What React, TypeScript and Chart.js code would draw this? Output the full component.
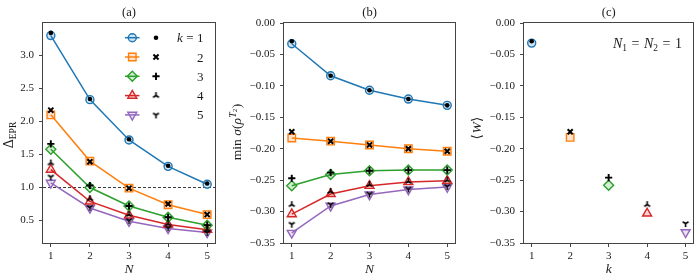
import React, { useEffect, useRef } from 'react';
import { Chart, registerables } from 'chart.js';

Chart.register(...registerables);

// ---------------- data ----------------
const nValues = [1, 2, 3, 4, 5];
const kValues = [1, 2, 3, 4, 5];

// panel (a): Delta_EPR vs N (coloured lines) and reference markers (black)
const deltaK1 = [3.30, 2.33, 1.72, 1.32, 1.05];
const deltaK2 = [2.10, 1.40, 0.99, 0.74, 0.59];
const deltaK3 = [1.58, 1.00, 0.72, 0.55, 0.43];
const deltaK4 = [1.27, 0.79, 0.58, 0.44, 0.36];
const deltaK5 = [1.07, 0.69, 0.49, 0.38, 0.32];
const deltaRefK1 = [3.34, 2.34, 1.73, 1.33, 1.06];
const deltaRefK2 = [2.17, 1.39, 0.99, 0.75, 0.59];
const deltaRefK3 = [1.66, 1.03, 0.72, 0.55, 0.43];
const deltaRefK4 = [1.37, 0.83, 0.59, 0.45, 0.36];
const deltaRefK5 = [1.16, 0.70, 0.50, 0.39, 0.32];

// panel (b): min sigma(rho^T2) vs N
const sigmaK1 = [-0.033, -0.084, -0.107, -0.121, -0.131];
const sigmaK2 = [-0.183, -0.188, -0.194, -0.200, -0.204];
const sigmaK3 = [-0.259, -0.241, -0.235, -0.234, -0.234];
const sigmaK4 = [-0.304, -0.272, -0.259, -0.253, -0.251];
const sigmaK5 = [-0.334, -0.291, -0.273, -0.265, -0.261];
const sigmaRefK1 = [-0.029, -0.084, -0.107, -0.121, -0.131];
const sigmaRefK2 = [-0.173, -0.188, -0.194, -0.200, -0.204];
const sigmaRefK3 = [-0.247, -0.238, -0.235, -0.234, -0.234];
const sigmaRefK4 = [-0.289, -0.268, -0.257, -0.252, -0.250];
const sigmaRefK5 = [-0.320, -0.289, -0.272, -0.264, -0.260];

// panel (c): <W> vs k (N1 = N2 = 1)
const witnessValues = [-0.032, -0.182, -0.258, -0.303, -0.333];
const witnessRefValues = [-0.029, -0.173, -0.246, -0.289, -0.319];

// tick labels
const xTicks = [1, 2, 3, 4, 5];
const deltaTicks = [0.5, 1.0, 1.5, 2.0, 2.5, 3.0];
const sigmaTicks = [0, -0.05, -0.1, -0.15, -0.2, -0.25, -0.3, -0.35];
const legendLabels = ['1', '2', '3', '4', '5'];
const panelTitles = ['(a)', '(b)', '(c)'];

// ---------------- styles ----------------
const W = 700;
const H = 280;
const COLORS = ['#1f77b4', '#ff7f0e', '#2ca02c', '#d62728', '#9467bd'];
const FILLS = ['rgba(31,119,180,0.2)', 'rgba(255,127,14,0.2)', 'rgba(44,160,44,0.2)', 'rgba(214,39,40,0.2)', 'rgba(148,103,189,0.2)'];
const SERIF = "'Liberation Serif', 'DejaVu Serif', serif";
const TEXT = '#1a1a1a';
const FRAME = '#444444';

function triCanvas(up: boolean) {
  const c = document.createElement('canvas');
  c.width = 9;
  c.height = 9;
  const g = c.getContext('2d')!;
  g.strokeStyle = '#000';
  g.lineWidth = 1.6;
  const cx = 4.5, cy = 4.5, r = 3.4;
  const angles = up ? [-90, 30, 150] : [90, -30, -150];
  g.beginPath();
  for (const a of angles) {
    const rad = (a * Math.PI) / 180;
    g.moveTo(cx, cy);
    g.lineTo(cx + r * Math.cos(rad), cy + r * Math.sin(rad));
  }
  g.stroke();
  return c;
}

type Marker = { style: any; radius: number; rotation: number; width: number };

function coloredMarkers(): Marker[] {
  return [
    { style: 'circle', radius: 4, rotation: 0, width: 1.4 },
    { style: 'rect', radius: 5.3, rotation: 0, width: 1.4 },
    { style: 'rectRot', radius: 5, rotation: 0, width: 1.4 },
    { style: 'triangle', radius: 5.2, rotation: 0, width: 1.4 },
    { style: 'triangle', radius: 5.2, rotation: 180, width: 1.4 },
  ];
}

function blackMarkers(): Marker[] {
  return [
    { style: 'circle', radius: 2.3, rotation: 0, width: 0 },
    { style: 'crossRot', radius: 3.6, rotation: 0, width: 2 },
    { style: 'cross', radius: 3.6, rotation: 0, width: 1.9 },
    { style: triCanvas(true), radius: 4, rotation: 0, width: 1 },
    { style: triCanvas(false), radius: 4, rotation: 0, width: 1 },
  ];
}

function pts(xs: number[], ys: number[]) {
  return xs.map((x, i) => ({ x, y: ys[i] }));
}

function makeDatasets(xs: number[], series: number[][], refs: number[][], showLine: boolean) {
  const cm = coloredMarkers();
  const bm = blackMarkers();
  const ds: any[] = [];
  series.forEach((s, i) => {
    ds.push({
      data: pts(xs, s),
      showLine,
      borderColor: COLORS[i],
      backgroundColor: COLORS[i],
      borderWidth: 1.5,
      tension: 0,
      pointStyle: cm[i].style,
      pointRadius: cm[i].radius,
      pointRotation: cm[i].rotation,
      pointBorderColor: COLORS[i],
      pointBackgroundColor: FILLS[i],
      pointBorderWidth: cm[i].width,
      order: 2,
    });
  });
  refs.forEach((s, i) => {
    ds.push({
      data: pts(xs, s),
      showLine: false,
      borderColor: '#000',
      backgroundColor: '#000',
      pointStyle: bm[i].style,
      pointRadius: bm[i].radius,
      pointRotation: 0,
      pointBorderColor: '#000',
      pointBackgroundColor: '#000',
      pointBorderWidth: bm[i].width,
      order: 1,
    });
  });
  return ds;
}

// ---------- text helpers ----------
type Seg = { t: string; size: number; italic?: boolean; dy?: number; gap?: number };

function richWidth(ctx: CanvasRenderingContext2D, segs: Seg[]) {
  let w = 0;
  for (const s of segs) {
    ctx.font = `${s.italic ? 'italic ' : ''}${s.size}px ${SERIF}`;
    w += ctx.measureText(s.t).width + (s.gap || 0);
  }
  return w;
}

function drawRich(ctx: CanvasRenderingContext2D, segs: Seg[], x: number, y: number, align: 'left' | 'center' | 'right') {
  const total = richWidth(ctx, segs);
  let cx = align === 'left' ? x : align === 'center' ? x - total / 2 : x - total;
  ctx.textAlign = 'left';
  ctx.textBaseline = 'alphabetic';
  for (const s of segs) {
    ctx.font = `${s.italic ? 'italic ' : ''}${s.size}px ${SERIF}`;
    ctx.fillText(s.t, cx, y + (s.dy || 0));
    cx += ctx.measureText(s.t).width + (s.gap || 0);
  }
}

function drawMarker(ctx: CanvasRenderingContext2D, m: Marker, x: number, y: number, stroke: string, fill: string) {
  ctx.save();
  ctx.translate(x, y);
  ctx.strokeStyle = stroke;
  ctx.fillStyle = fill;
  ctx.lineWidth = m.width;
  const r = m.radius;
  if (typeof m.style !== 'string') {
    ctx.drawImage(m.style, -m.style.width / 2, -m.style.height / 2);
    ctx.restore();
    return;
  }
  ctx.beginPath();
  if (m.style === 'circle') {
    ctx.arc(0, 0, r, 0, Math.PI * 2);
  } else if (m.style === 'rect') {
    const s = Math.SQRT1_2 * r;
    ctx.rect(-s, -s, 2 * s, 2 * s);
  } else if (m.style === 'rectRot') {
    ctx.moveTo(-r, 0); ctx.lineTo(0, -r); ctx.lineTo(r, 0); ctx.lineTo(0, r); ctx.closePath();
  } else if (m.style === 'triangle') {
    ctx.rotate((m.rotation * Math.PI) / 180);
    for (let i = 0; i < 3; i++) {
      const a = -Math.PI / 2 + (i * 2 * Math.PI) / 3;
      const px = r * Math.cos(a), py = r * Math.sin(a);
      if (i === 0) ctx.moveTo(px, py); else ctx.lineTo(px, py);
    }
    ctx.closePath();
  } else if (m.style === 'cross') {
    ctx.moveTo(-r, 0); ctx.lineTo(r, 0); ctx.moveTo(0, -r); ctx.lineTo(0, r);
  } else if (m.style === 'crossRot') {
    const s = r * Math.SQRT1_2;
    ctx.moveTo(-s, -s); ctx.lineTo(s, s); ctx.moveTo(-s, s); ctx.lineTo(s, -s);
  }
  if (m.style !== 'cross' && m.style !== 'crossRot') ctx.fill();
  if (m.width > 0) ctx.stroke();
  ctx.restore();
}

// ---------- chart factory ----------
type PanelSpec = {
  box: { l: number; t: number; r: number; b: number };
  xMin: number; xMax: number;
  yMin: number; yMax: number;
  yTicks: number[];
  yFmt: (v: number) => string;
  datasets: any[];
  title: string;
  xTitle: string;
  yLabel: { x: number; y: number; segs: Seg[] };
  extraBefore?: (chart: any) => void;
  extraAfter?: (chart: any) => void;
};

const Y_W = 36;
const X_H = 22;

function makeChart(canvas: HTMLCanvasElement, p: PanelSpec) {
  const tickFont = { family: SERIF, size: 11 };
  const panelPlugin = {
    id: 'panelDecor',
    beforeDatasetsDraw(chart: any) {
      if (p.extraBefore) p.extraBefore(chart);
    },
    afterDatasetsDraw(chart: any) {
      const { ctx, chartArea } = chart;
      ctx.save();
      ctx.strokeStyle = FRAME;
      ctx.lineWidth = 1;
      const l = Math.round(chartArea.left) - 0.5;
      const t = Math.round(chartArea.top) - 0.5;
      const r = Math.round(chartArea.right) + 0.5;
      const b = Math.round(chartArea.bottom) + 0.5;
      ctx.strokeRect(l, t, r - l, b - t);
      ctx.restore();
    },
    afterDraw(chart: any) {
      const { ctx, chartArea } = chart;
      const cx = (chartArea.left + chartArea.right) / 2;
      ctx.save();
      ctx.fillStyle = TEXT;
      drawRich(ctx, [{ t: p.title, size: 12.5 }], cx, 16, 'center');
      drawRich(ctx, [{ t: p.xTitle, size: 13.5, italic: true }], cx, 273, 'center');
      ctx.translate(p.yLabel.x, p.yLabel.y);
      ctx.rotate(-Math.PI / 2);
      drawRich(ctx, p.yLabel.segs, 0, 0, 'center');
      ctx.restore();
      if (p.extraAfter) {
        ctx.save();
        p.extraAfter(chart);
        ctx.restore();
      }
    },
  };

  return new Chart(canvas, {
    type: 'line',
    data: { datasets: p.datasets },
    options: {
      responsive: false,
      animation: false,
      devicePixelRatio: 1,
      events: [],
      layout: {
        padding: { left: p.box.l - Y_W, top: p.box.t, right: W - p.box.r, bottom: H - p.box.b - X_H },
      },
      plugins: { legend: { display: false }, tooltip: { enabled: false }, title: { display: false } },
      scales: {
        x: {
          type: 'linear',
          min: p.xMin,
          max: p.xMax,
          afterBuildTicks: (s: any) => { s.ticks = xTicks.map((v) => ({ value: v })); },
          afterFit: (s: any) => { s.height = X_H; },
          ticks: { font: tickFont, color: TEXT, padding: 3, autoSkip: false, maxRotation: 0, callback: (v: any) => String(v) },
          grid: { drawOnChartArea: false, drawTicks: true, tickLength: 4, color: FRAME, lineWidth: 1 },
          border: { display: false },
        },
        y: {
          type: 'linear',
          min: p.yMin,
          max: p.yMax,
          afterBuildTicks: (s: any) => { s.ticks = p.yTicks.map((v) => ({ value: v })); },
          afterFit: (s: any) => { s.width = Y_W; },
          ticks: { font: tickFont, color: TEXT, padding: 5, autoSkip: false, callback: (v: any) => p.yFmt(Number(v)) },
          grid: { drawOnChartArea: false, drawTicks: true, tickLength: 4, color: FRAME, lineWidth: 1 },
          border: { display: false },
        },
      },
    },
    plugins: [panelPlugin],
  } as any);
}

const fmtSigma = (v: number) => (Math.abs(v) < 1e-9 ? '0.00' : (v < 0 ? '\u2212' : '') + Math.abs(v).toFixed(2));

export default function App() {
  const refA = useRef<HTMLCanvasElement>(null);
  const refB = useRef<HTMLCanvasElement>(null);
  const refC = useRef<HTMLCanvasElement>(null);

  useEffect(() => {
    const legendMarkersC = coloredMarkers();
    const legendMarkersB = blackMarkers();

    const chartA = makeChart(refA.current!, {
      box: { l: 43, t: 23, r: 215, b: 243 },
      xMin: 0.8, xMax: 5.2,
      yMin: 0.16, yMax: 3.49,
      yTicks: deltaTicks,
      yFmt: (v) => v.toFixed(1),
      datasets: makeDatasets(nValues, [deltaK1, deltaK2, deltaK3, deltaK4, deltaK5], [deltaRefK1, deltaRefK2, deltaRefK3, deltaRefK4, deltaRefK5], true),
      title: panelTitles[0],
      xTitle: 'N',
      yLabel: { x: 12.5, y: 135, segs: [{ t: '\u0394', size: 14 }, { t: 'EPR', size: 9.5, dy: 3 }] },
      extraBefore: (chart) => {
        const { ctx, chartArea } = chart;
        const y = chart.scales.y.getPixelForValue(1.0);
        ctx.save();
        ctx.strokeStyle = '#222';
        ctx.lineWidth = 0.9;
        ctx.setLineDash([3, 2]);
        ctx.beginPath();
        ctx.moveTo(chartArea.left, y);
        ctx.lineTo(chartArea.right, y);
        ctx.stroke();
        ctx.restore();
      },
      extraAfter: (chart) => {
        const { ctx } = chart;
        for (let i = 0; i < 5; i++) {
          const y = 37.7 + i * 19.3;
          ctx.save();
          ctx.strokeStyle = COLORS[i];
          ctx.lineWidth = 1.5;
          ctx.beginPath();
          ctx.moveTo(125, y);
          ctx.lineTo(139.5, y);
          ctx.stroke();
          ctx.restore();
          drawMarker(ctx, legendMarkersC[i], 132.3, y, COLORS[i], FILLS[i]);
          drawMarker(ctx, legendMarkersB[i], 156, y, '#000', '#000');
          ctx.fillStyle = TEXT;
          if (i === 0) {
            drawRich(ctx, [
              { t: 'k', size: 13, italic: true, gap: 3.5 },
              { t: '=', size: 13, gap: 3.5 },
              { t: legendLabels[i], size: 13 },
            ], 203.5, y + 4.5, 'right');
          } else {
            drawRich(ctx, [{ t: legendLabels[i], size: 13 }], 203.5, y + 4.5, 'right');
          }
        }
      },
    });

    const chartB = makeChart(refB.current!, {
      box: { l: 284, t: 23, r: 455, b: 243 },
      xMin: 0.8, xMax: 5.2,
      yMin: -0.35, yMax: 0,
      yTicks: sigmaTicks,
      yFmt: fmtSigma,
      datasets: makeDatasets(nValues, [sigmaK1, sigmaK2, sigmaK3, sigmaK4, sigmaK5], [sigmaRefK1, sigmaRefK2, sigmaRefK3, sigmaRefK4, sigmaRefK5], true),
      title: panelTitles[1],
      xTitle: 'N',
      yLabel: {
        x: 241, y: 132,
        segs: [
          { t: 'min', size: 13.5, gap: 3.5 },
          { t: '\u03C3', size: 13.5, italic: true },
          { t: '(', size: 13.5 },
          { t: '\u03C1', size: 13.5, italic: true, gap: 0.5 },
          { t: 'T', size: 9.5, italic: true, dy: -5.5 },
          { t: '2', size: 7, dy: -4, gap: 0.5 },
          { t: ')', size: 13.5 },
        ],
      },
    });

    const chartC = makeChart(refC.current!, {
      box: { l: 524, t: 23, r: 696, b: 243 },
      xMin: 0.8, xMax: 5.2,
      yMin: -0.35, yMax: 0,
      yTicks: sigmaTicks,
      yFmt: fmtSigma,
      datasets: ([] as any[]).concat(
        kValues.map((k, i) => ({
          data: [{ x: k, y: witnessValues[i] }],
          showLine: false,
          borderColor: COLORS[i],
          backgroundColor: COLORS[i],
          pointStyle: legendMarkersC[i].style,
          pointRadius: legendMarkersC[i].radius,
          pointRotation: legendMarkersC[i].rotation,
          pointBorderColor: COLORS[i],
          pointBackgroundColor: FILLS[i],
          pointBorderWidth: 1.4,
          order: 2,
        })),
        kValues.map((k, i) => ({
          data: [{ x: k, y: witnessRefValues[i] }],
          showLine: false,
          borderColor: '#000',
          backgroundColor: '#000',
          pointStyle: legendMarkersB[i].style,
          pointRadius: legendMarkersB[i].radius,
          pointBorderColor: '#000',
          pointBackgroundColor: '#000',
          pointBorderWidth: legendMarkersB[i].width,
          order: 1,
        })),
      ),
      title: panelTitles[2],
      xTitle: 'k',
      yLabel: {
        x: 481, y: 128,
        segs: [
          { t: '\u27E8', size: 13.5, gap: 0.5 },
          { t: 'W', size: 13.5, italic: true, gap: 0.5 },
          { t: '\u27E9', size: 13.5 },
        ],
      },
      extraAfter: (chart) => {
        const { ctx } = chart;
        ctx.fillStyle = TEXT;
        drawRich(ctx, [
          { t: 'N', size: 14, italic: true },
          { t: '1', size: 9.5, dy: 3, gap: 4.5 },
          { t: '=', size: 14, gap: 4.5 },
          { t: 'N', size: 14, italic: true },
          { t: '2', size: 9.5, dy: 3, gap: 4.5 },
          { t: '=', size: 14, gap: 4.5 },
          { t: '1', size: 14 },
        ], 682, 48, 'right');
      },
    });

    return () => {
      chartA.destroy();
      chartB.destroy();
      chartC.destroy();
    };
  }, []);

  const canvasStyle: React.CSSProperties = { position: 'absolute', left: 0, top: 0, width: W, height: H };
  return (
    <div style={{ position: 'absolute', left: 0, top: 0, width: W, height: H, background: '#fff' }}>
      <canvas ref={refA} width={W} height={H} style={canvasStyle} />
      <canvas ref={refB} width={W} height={H} style={canvasStyle} />
      <canvas ref={refC} width={W} height={H} style={canvasStyle} />
    </div>
  );
}
